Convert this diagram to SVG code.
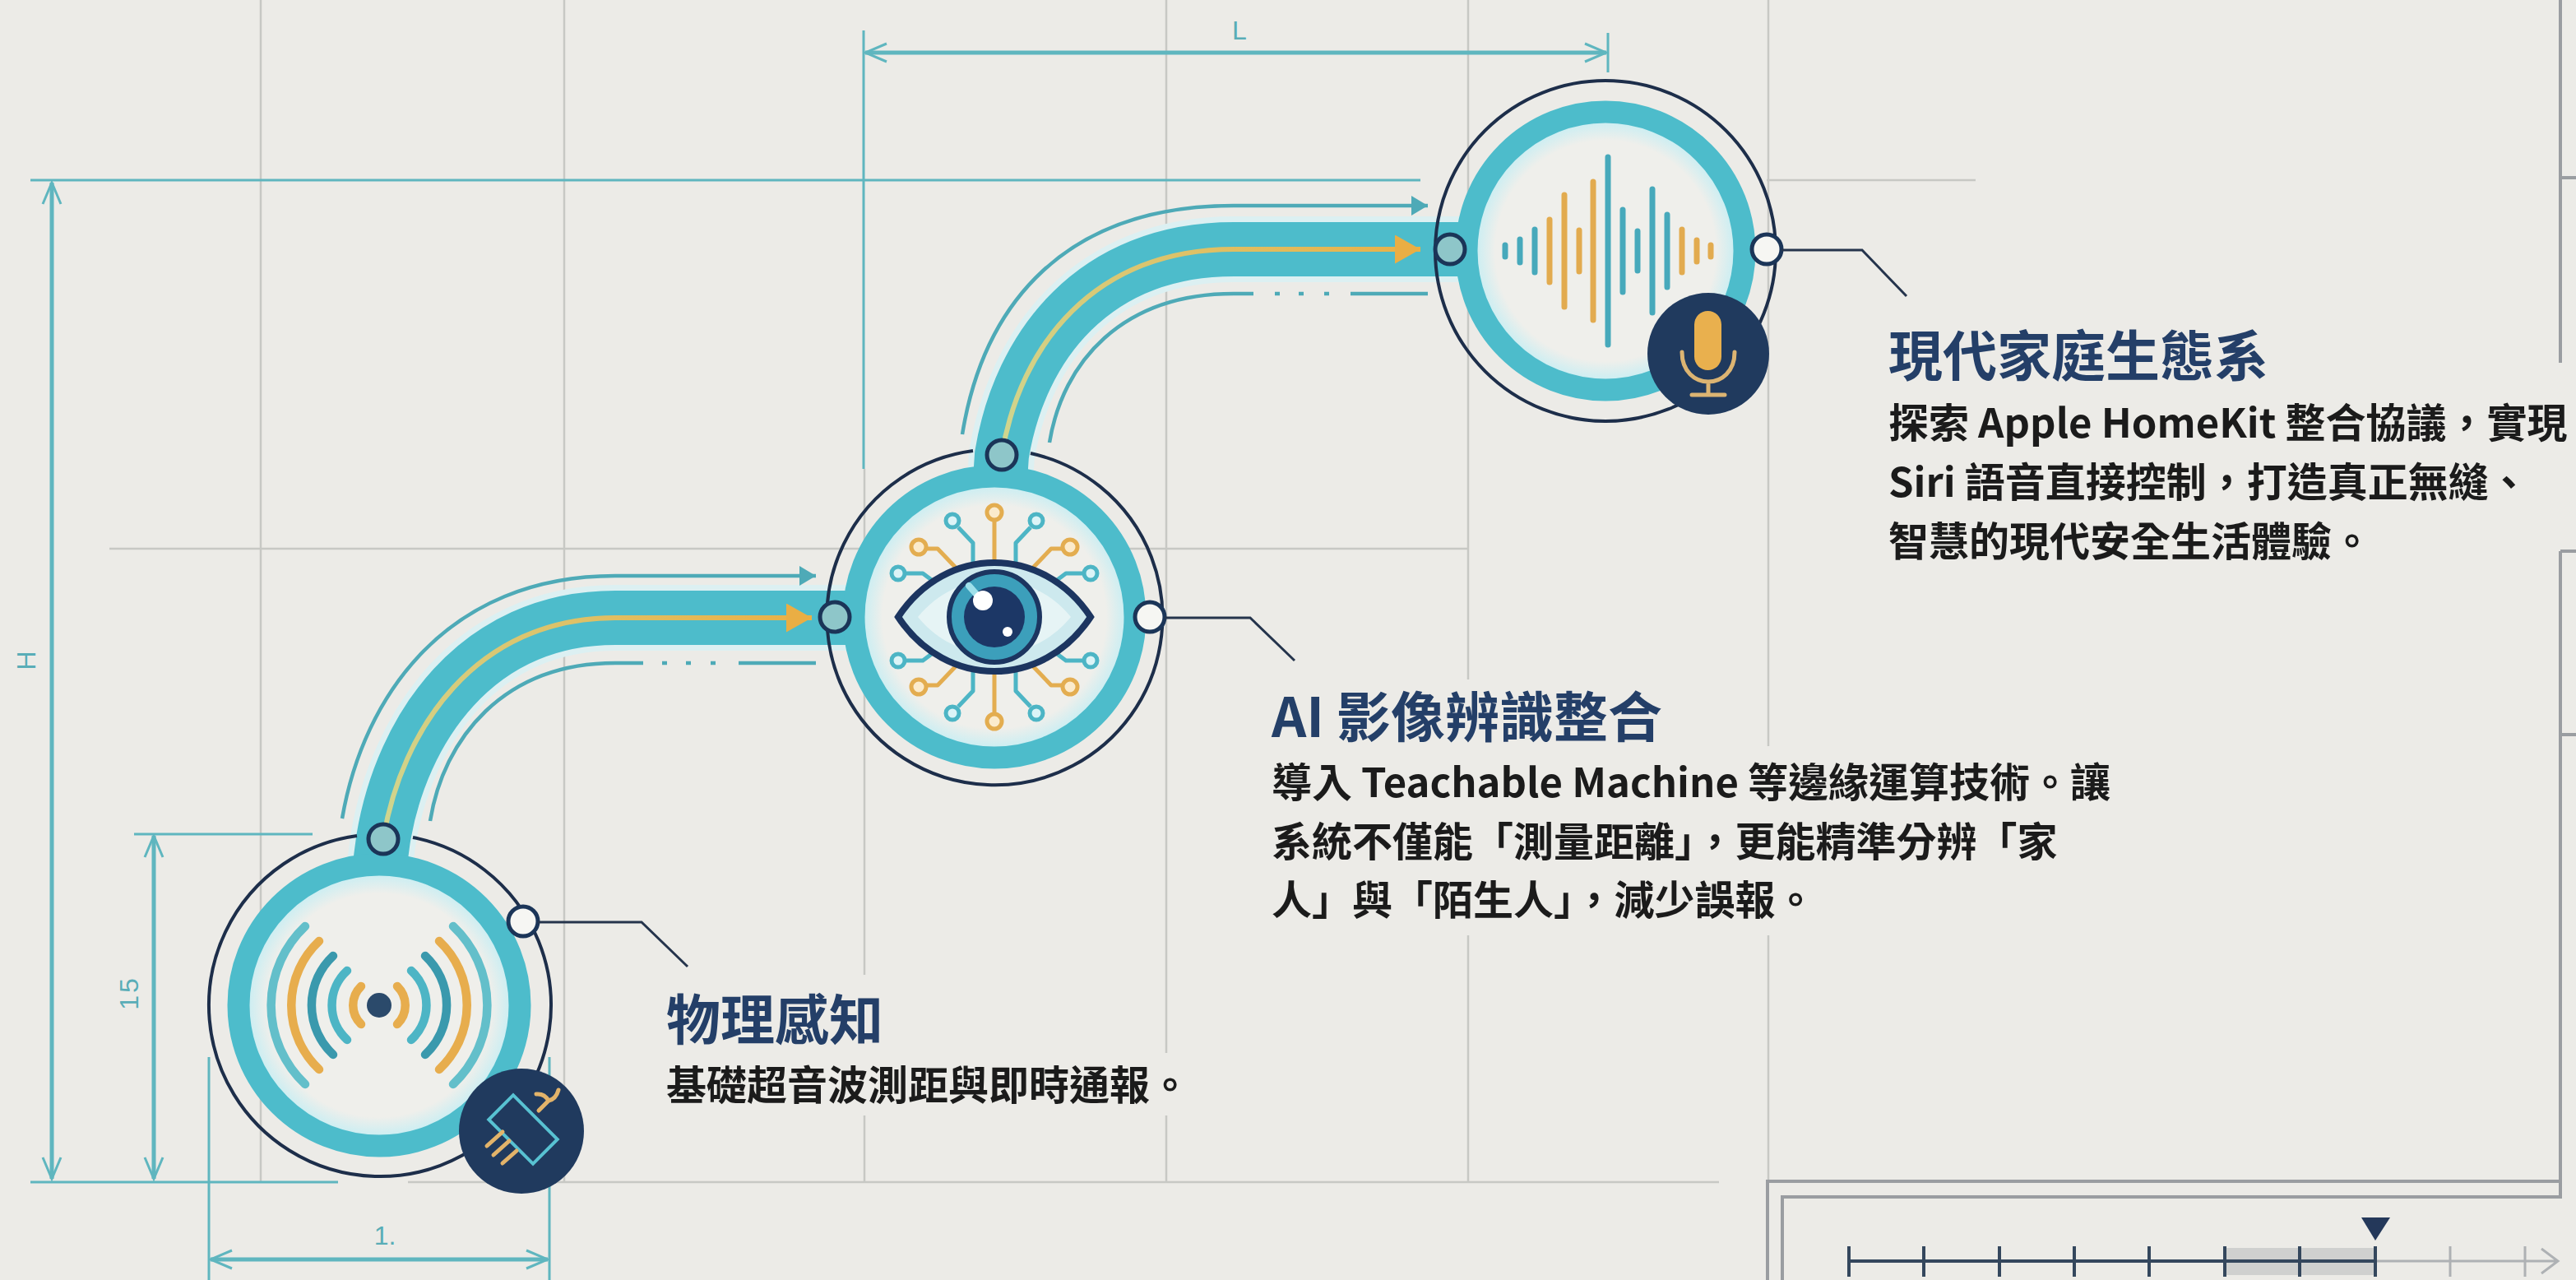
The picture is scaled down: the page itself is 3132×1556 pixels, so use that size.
<svg xmlns="http://www.w3.org/2000/svg" width="3132" height="1556" viewBox="0 0 3132 1556">
  <defs>
    <style>
      .grid{stroke:#c7c8c4;stroke-width:2.5;fill:none}
      .frame{stroke:#9a9da1;stroke-width:4;fill:none}
      .dim{stroke:#5fb6bf;stroke-width:5;fill:none}
      .ext{stroke:#5fb6bf;stroke-width:3;fill:none}
      .dimtxt{fill:#59adb7;font-family:"Liberation Sans",sans-serif;font-size:32px}
      .halo{stroke:#dcf0f2;stroke-width:80;fill:none}
      .band{stroke:#4dbccb;stroke-width:66;fill:none}
      .flow{stroke-width:6;fill:none;stroke-linecap:butt}
      .rail{stroke:#4eaab7;stroke-width:4.5;fill:none}
      .outline{stroke:#1d2e4a;stroke-width:4;fill:none}
      .ring{stroke:#4dbccb;stroke-width:27;fill:none}
      .core{fill:url(#coreFill)}
      .port{stroke:#1b3558;stroke-width:5;fill:#8ec6c9}
      .open{fill:#f6f6f3}
      .leader{stroke:#25344c;stroke-width:3;fill:none}
      .badge{fill:#203a5e}
      .title{font-family:"Noto Sans CJK TC","Noto Sans",sans-serif;font-weight:700;font-size:66px;fill:#243f68}
      .body{font-family:"Noto Sans CJK TC","Noto Sans",sans-serif;font-weight:600;font-size:49px;fill:#1b1b1b}
      .mask{fill:#ecebe7}
      .wave{fill:none;stroke-width:10.5;stroke-linecap:round}
      .gold{stroke:#e7ad4d}
      .teal{stroke:#4db5c5}
      .deep{stroke:#3a99ad}
      .pale{stroke:#63bfca}
      .trace{fill:none;stroke-width:5;stroke-linejoin:round}
      .pinT{stroke:#4db5c5;stroke-width:5;fill:#dcf4f7}
      .pinG{stroke:#e3ad50;stroke-width:5;fill:#fbebcc}
      .bar{stroke-width:7;stroke-linecap:round}
      .barT{stroke:#47a9bb}
      .barG{stroke:#e2ab4f}
    </style>
    <radialGradient id="coreFill" cx="0.5" cy="0.5" r="0.5">
      <stop offset="0.86" stop-color="#efefeb"/>
      <stop offset="1" stop-color="#cdeef2"/>
    </radialGradient>
    <linearGradient id="flowA" gradientUnits="userSpaceOnUse" x1="466" y1="1020" x2="990" y2="751">
      <stop offset="0" stop-color="#cfd690"/>
      <stop offset="1" stop-color="#eab046"/>
    </linearGradient>
    <linearGradient id="flowB" gradientUnits="userSpaceOnUse" x1="1218" y1="553" x2="1730" y2="303">
      <stop offset="0" stop-color="#cfd690"/>
      <stop offset="1" stop-color="#eab046"/>
    </linearGradient>
    <marker id="railHead" markerUnits="userSpaceOnUse" markerWidth="24" markerHeight="26" refX="20" refY="12" orient="auto" viewBox="0 0 24 26">
      <path d="M0,0 L20,12 L0,24 Z" fill="#4eaab7"/>
    </marker>
    <marker id="goldHead" markerUnits="userSpaceOnUse" markerWidth="34" markerHeight="38" refX="31" refY="17.5" orient="auto" viewBox="0 0 34 38">
      <path d="M0,0 L31,17.5 L0,35 Z" fill="#eaae44"/>
    </marker>
    <marker id="dimEnd" markerUnits="userSpaceOnUse" markerWidth="32" markerHeight="30" refX="0" refY="0" orient="auto-start-reverse" viewBox="-29 -15 32 30">
      <path d="M-26,-11 L0,0 L-26,11" fill="none" stroke="#5fb6bf" stroke-width="3"/>
    </marker>
  </defs>

  <rect width="3132" height="1556" fill="#ecebe7"/>

  <!-- background grid -->
  <g id="grid">
    <path class="grid" d="M317,0 V1437 M686,0 V1437 M1051,570 V1437 M1418,0 V1437 M1785,0 V1437 M2150,0 V1437"/>
    <path class="grid" d="M133,667 H1785 M2148,219 H2402 M496,1437 H2090"/>
  </g>

  <!-- page frame and scale ruler -->
  <g id="frame">
    <path class="frame" d="M3113,0 V441 M3113,216 H3132 M3113,670 V1455 M3113,670 H3132 M3113,893 H3132"/>
    <path class="frame" d="M2149,1556 V1436 H3115 M2167,1556 V1455 H3115"/>
    <rect x="2705" y="1517" width="183" height="33" fill="#cfd0cf"/>
    <path d="M2888,1533 H3108 M2979,1515 V1552 M3070,1515 V1552 M3090,1518 L3110,1533 L3090,1548" stroke="#aeb1b4" stroke-width="3" fill="none"/>
    <path d="M2248,1533 H2888 M2248,1515 V1552 M2339,1515 V1552 M2431,1515 V1552 M2522,1515 V1552 M2613,1515 V1552 M2705,1515 V1552 M2796,1515 V1552 M2888,1515 V1552" stroke="#34475d" stroke-width="4" fill="none"/>
    <path d="M2871,1480 L2906,1480 L2888,1508 Z" fill="#24385a"/>
  </g>

  <!-- dimension annotations -->
  <g id="dimensions">
    <path class="ext" d="M37,219 H1727 M37,1437 H411 M163,1014 H380 M254,1285 V1556 M668,1285 V1556 M1050,37 V570 M1955,40 V88"/>
    <path class="dim" d="M63,222 V1433" marker-start="url(#dimEnd)" marker-end="url(#dimEnd)"/>
    <path class="dim" d="M187,1016 V1433" marker-start="url(#dimEnd)" marker-end="url(#dimEnd)"/>
    <path class="dim" d="M256,1531 H666" marker-start="url(#dimEnd)" marker-end="url(#dimEnd)"/>
    <path class="dim" d="M1052,64 H1953" marker-start="url(#dimEnd)" marker-end="url(#dimEnd)"/>
    <text class="dimtxt" transform="translate(43,803) rotate(-90)" text-anchor="middle" font-size="30">H</text>
    <text class="dimtxt" transform="translate(168,1207) rotate(-90)" text-anchor="middle" font-size="30" letter-spacing="3">15</text>
    <text class="dimtxt" x="468" y="1513" text-anchor="middle" font-family="Liberation Serif" font-size="32">1.</text>
    <text class="dimtxt" x="1507" y="48" text-anchor="middle" font-size="36">L</text>
  </g>

  <!-- flow connectors between stages -->
  <g id="connectors">
    <g id="link-sensing-vision">
      <path class="halo" d="M462,1050 L466,1020 C488,887 578,751 748,751 L1040,751"/>
      <path class="band" d="M462,1050 L466,1020 C488,887 578,751 748,751 L1040,751"/>
      <path class="flow" stroke="url(#flowA)" d="M466,1020 C488,887 578,751 748,751 L987,751" marker-end="url(#goldHead)"/>
      <path class="rail" d="M416,995 C442,845 544,700 748,700 L992,700" marker-end="url(#railHead)"/>
      <path class="rail" d="M523,998 C539,898 612,806 748,806 L782,806 M805,806 h6 M834,806 h6 M864,806 h6 M898,806 H992"/>
    </g>
    <g id="link-vision-home">
      <path class="halo" d="M1216,583 L1218,553 C1240,420 1330,303 1500,303 L1790,303"/>
      <path class="band" d="M1216,583 L1218,553 C1240,420 1330,303 1500,303 L1790,303"/>
      <path class="flow" stroke="url(#flowB)" d="M1218,553 C1240,420 1330,303 1500,303 L1727,303" marker-end="url(#goldHead)"/>
      <path class="rail" d="M1170,528 C1196,368 1296,250 1500,250 L1736,250" marker-end="url(#railHead)"/>
      <path class="rail" d="M1276,538 C1292,440 1364,357 1500,357 L1524,357 M1550,357 h6 M1579,357 h6 M1610,357 h6 M1642,357 H1736"/>
    </g>
  </g>

  <!-- stage 1: physical sensing -->
  <g id="node-sensing">
    <circle class="core" cx="461" cy="1222" r="158"/>
    <circle class="ring" cx="461" cy="1222" r="171"/>
    <path class="outline" d="M502,1018 A208,208 0 1 1 434,1016"/>
    <path class="wave gold" d="M439,1199 A32,32 0 0 0 439,1245 M483,1199 A32,32 0 0 1 483,1245"/>
    <path class="wave teal" d="M422,1180 A57,57 0 0 0 422,1264 M500,1180 A57,57 0 0 1 500,1264"/>
    <path class="wave deep" d="M405,1162 A82,82 0 0 0 405,1282 M517,1162 A82,82 0 0 1 517,1282"/>
    <path class="wave gold" d="M388,1144 A107,107 0 0 0 388,1300 M534,1144 A107,107 0 0 1 534,1300"/>
    <path class="wave pale" d="M371,1126 A132,132 0 0 0 371,1318 M551,1126 A132,132 0 0 1 551,1318"/>
    <circle cx="461" cy="1222" r="15" fill="#2b4a6b"/>
    <circle class="badge" cx="634" cy="1375" r="76"/>
    <g transform="translate(636,1373) rotate(45)">
      <rect x="-38" y="-21" width="76" height="42" fill="none" stroke="#58c2d2" stroke-width="4"/>
    </g>
    <path d="M655,1350 L667,1338 M667,1338 Q662,1329 652,1330 M667,1338 Q676,1336 679,1325" fill="none" stroke="#e2b36a" stroke-width="5" stroke-linecap="round"/>
    <path d="M592,1393 L611,1376 M600,1404 L619,1387 M611,1414 L628,1399" fill="none" stroke="#e2b36a" stroke-width="5" stroke-linecap="round"/>
    <circle class="port" cx="466" cy="1020" r="18"/>
    <circle class="port open" cx="636" cy="1120" r="18"/>
    <path class="leader" d="M654,1121 H780 L836,1175"/>
    <rect class="mask" x="800" y="1185" width="290" height="100"/>
    <rect class="mask" x="800" y="1280" width="650" height="76"/>
    <text class="title" x="810" y="1264">物理感知</text>
    <text class="body" x="810" y="1337">基礎超音波測距與即時通報。</text>
  </g>

  <!-- stage 2: AI image recognition -->
  <g id="node-vision">
    <circle class="core" cx="1209" cy="750" r="158"/>
    <circle class="ring" cx="1209" cy="750" r="171"/>
    <path class="outline" d="M1253,551 A204,204 0 1 1 1183,548"/>
    <path class="trace" stroke="#e3ad50" d="M1209,683 V632 M1209,817 V868"/>
    <path class="trace" stroke="#4db5c5" d="M1183,690 V660 L1165,641 M1235,690 V660 L1253,641 M1134,706 L1122,697 H1101 M1284,706 L1296,697 H1317 M1134,794 L1122,803 H1101 M1284,794 L1296,803 H1317 M1183,810 V840 L1165,859 M1235,810 V840 L1253,859"/>
    <path class="trace" stroke="#e3ad50" d="M1162,690 L1140,667 H1126 M1256,690 L1278,667 H1292 M1162,810 L1140,833 H1126 M1256,810 L1278,833 H1292"/>
    <circle class="pinG" cx="1209" cy="623" r="9"/>
    <circle class="pinG" cx="1209" cy="877" r="9"/>
    <circle class="pinG" cx="1117" cy="665" r="9"/>
    <circle class="pinG" cx="1301" cy="665" r="9"/>
    <circle class="pinG" cx="1117" cy="835" r="9"/>
    <circle class="pinG" cx="1301" cy="835" r="9"/>
    <circle class="pinT" cx="1158" cy="633" r="8"/>
    <circle class="pinT" cx="1260" cy="633" r="8"/>
    <circle class="pinT" cx="1092" cy="697" r="8"/>
    <circle class="pinT" cx="1326" cy="697" r="8"/>
    <circle class="pinT" cx="1092" cy="803" r="8"/>
    <circle class="pinT" cx="1326" cy="803" r="8"/>
    <circle class="pinT" cx="1158" cy="867" r="8"/>
    <circle class="pinT" cx="1260" cy="867" r="8"/>
    <path d="M1092,750 C1150,662 1268,662 1326,750 C1268,838 1150,838 1092,750 Z" fill="#cde9ee" stroke="#1c3560" stroke-width="8"/>
    <path d="M1116,750 C1165,690 1253,690 1302,750 C1253,810 1165,810 1116,750 Z" fill="#e6f4f5"/>
    <circle cx="1209" cy="750" r="55" fill="#3c9fbb" stroke="#1c3560" stroke-width="6"/>
    <circle cx="1209" cy="750" r="37" fill="#1c3766"/>
    <path d="M1178,712 L1192,728" stroke="#9fe0ea" stroke-width="8" stroke-linecap="round"/>
    <circle cx="1195" cy="730" r="12" fill="#ffffff"/>
    <circle cx="1225" cy="768" r="6" fill="#ffffff"/>
    <circle class="port" cx="1015" cy="750" r="18"/>
    <circle class="port" cx="1218" cy="553" r="18"/>
    <circle class="port open" cx="1398" cy="750" r="18"/>
    <path class="leader" d="M1416,751 H1520 L1574,803"/>
    <rect class="mask" x="1536" y="826" width="510" height="84"/>
    <rect class="mask" x="1536" y="907" width="1050" height="230"/>
    <text class="title" x="1546" y="896">AI 影像辨識整合</text>
    <text class="body" x="1546" y="969">導入 Teachable Machine 等邊緣運算技術。讓</text>
    <text class="body" x="1546" y="1041">系統不僅能「測量距離」，更能精準分辨「家</text>
    <text class="body" x="1546" y="1112">人」與「陌生人」，減少誤報。</text>
  </g>

  <!-- stage 3: smart home ecosystem -->
  <g id="node-home">
    <circle class="core" cx="1952" cy="305" r="156"/>
    <circle class="ring" cx="1952" cy="305" r="169"/>
    <circle class="outline" cx="1952" cy="305" r="207"/>
    <path class="bar barT" d="M1830,298 V312 M1848,291 V319 M1866,279 V331 M1955,191 V419 M1973,255 V355 M1991,281 V329 M2009,230 V380 M2027,261 V349"/>
    <path class="bar barG" d="M1884,267 V343 M1902,237 V373 M1920,280 V330 M1937,221 V389 M2045,279 V331 M2063,292 V318 M2080,298 V312"/>
    <circle class="badge" cx="2077" cy="430" r="74"/>
    <rect x="2060" y="378" width="33" height="72" rx="16.5" fill="#e9b04e"/>
    <path d="M2045,428 C2045,476 2109,476 2109,428 M2077,466 V479 M2057,480 H2097" fill="none" stroke="#dcb472" stroke-width="5" stroke-linecap="round"/>
    <circle class="port" cx="1763" cy="303" r="18"/>
    <circle class="port open" cx="2148" cy="303" r="18"/>
    <path class="leader" d="M2166,304 H2264 L2318,360"/>
    <rect class="mask" x="2286" y="441" width="834" height="227"/>
    <text class="title" x="2296" y="457">現代家庭生態系</text>
    <text class="body" x="2296" y="532">探索 Apple HomeKit 整合協議，實現</text>
    <text class="body" x="2296" y="604">Siri 語音直接控制，打造真正無縫、</text>
    <text class="body" x="2296" y="676">智慧的現代安全生活體驗。</text>
  </g>
</svg>
